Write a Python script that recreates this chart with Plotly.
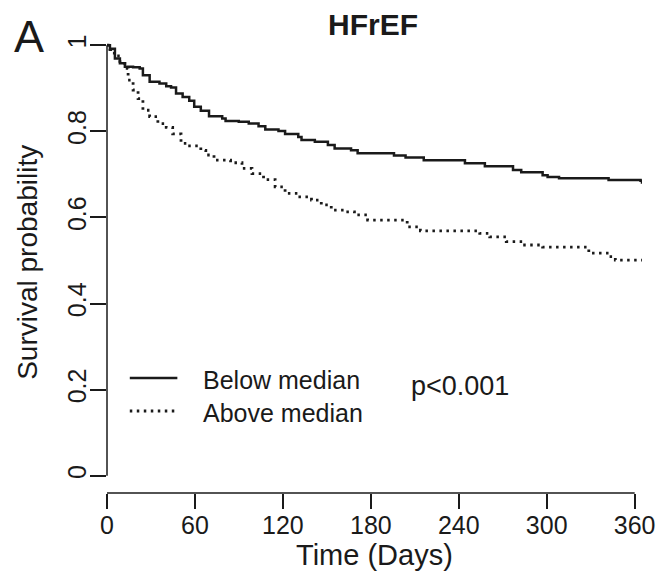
import plotly.graph_objects as go

# Kaplan-Meier step data (days, survival probability)
below_time = [0, 2.0, 5.4, 8.8, 12.2, 17.8, 22.3, 24.5, 29.1, 35.8, 40.4, 43.7, 47.1, 51.6,
              56.1, 59.5, 64.0, 69.6, 78.6, 80.9, 89.9, 96.7, 103.4, 108.0, 117.0, 121.5,
              130.5, 132.7, 141.8, 150.7, 155.3, 166.5, 171.0, 195.8, 203.7, 216.1, 244.2,
              257.8, 277.0, 282.6, 297.2, 300.6, 308.4, 342.2, 364.0, 365.0]
below_surv = [1.0, 0.992, 0.969, 0.958, 0.950, 0.949, 0.946, 0.930, 0.915, 0.911, 0.905, 0.902,
              0.888, 0.880, 0.871, 0.857, 0.848, 0.835, 0.830, 0.824, 0.822, 0.818, 0.812,
              0.804, 0.801, 0.794, 0.787, 0.780, 0.776, 0.768, 0.760, 0.756, 0.749, 0.744,
              0.739, 0.733, 0.726, 0.719, 0.710, 0.705, 0.698, 0.694, 0.691, 0.687, 0.685, 0.678]

above_time = [0, 2.0, 5.0, 8.8, 12.2, 14.4, 17.8, 21.2, 24.5, 29.1, 34.7, 40.4, 44.8, 50.5,
              55.0, 64.0, 67.4, 73.0, 84.3, 92.1, 98.9, 106.8, 114.7, 121.5, 130.5, 139.5,
              146.2, 153.0, 162.0, 168.8, 177.8, 204.8, 213.8, 254.3, 261.1, 272.4, 283.7,
              297.2, 328.7, 342.2, 346.8, 365.0]
above_surv = [1.0, 0.99, 0.975, 0.958, 0.946, 0.919, 0.896, 0.876, 0.849, 0.834, 0.818, 0.809,
              0.794, 0.772, 0.766, 0.756, 0.745, 0.733, 0.727, 0.714, 0.702, 0.688, 0.671,
              0.656, 0.648, 0.640, 0.629, 0.617, 0.613, 0.606, 0.594, 0.578, 0.569, 0.563,
              0.555, 0.544, 0.536, 0.531, 0.517, 0.509, 0.501, 0.501]

x_ticks = [0, 60, 120, 180, 240, 300, 360]
y_ticks = [0, 0.2, 0.4, 0.6, 0.8, 1]
y_ticklabels = ["0", "0.2", "0.4", "0.6", "0.8", "1"]

FONT = "Liberation Sans, Arial, sans-serif"
INK = "#1a1a1a"
DOT = "2.5px,4.5px"

fig = go.Figure()
fig.add_trace(go.Scatter(x=below_time, y=below_surv, mode="lines", line_shape="hv",
                         line=dict(color=INK, width=2.5), name="Below median"))
fig.add_trace(go.Scatter(x=above_time, y=above_surv, mode="lines", line_shape="hv",
                         line=dict(color=INK, width=2.8, dash=DOT), name="Above median"))

fig.update_layout(
    width=659, height=572,
    margin=dict(l=99, r=20, t=20, b=87),
    plot_bgcolor="white", paper_bgcolor="white",
    showlegend=False,
    font=dict(family=FONT, color=INK),
)
fig.update_xaxes(range=[0, 365], tickvals=x_ticks, ticks="outside", ticklen=15, tickwidth=1.5,
                 tickcolor=INK, showline=False, showgrid=False, zeroline=False,
                 ticklabelstandoff=-5,
                 tickfont=dict(size=25, family=FONT, color=INK))
fig.update_yaxes(range=[-0.04, 1.04], tickvals=y_ticks, ticktext=y_ticklabels, ticks="outside",
                 ticklen=16, tickwidth=1.5, tickcolor=INK, showline=False, showgrid=False,
                 zeroline=False, tickangle=-90, ticklabelstandoff=-6,
                 tickfont=dict(size=25, family=FONT, color=INK))

# axis lines spanning first to last tick (R style)
fig.add_shape(type="line", xref="x", yref="paper", x0=0, x1=360, y0=0, y1=0,
              line=dict(color=INK, width=1.5))
fig.add_shape(type="line", xref="paper", yref="y", x0=0, x1=0, y0=0, y1=1,
              line=dict(color=INK, width=1.5))

# legend samples
fig.add_shape(type="line", xref="paper", yref="paper", x0=0.0426, x1=0.1315, y0=0.2472, y1=0.2472,
              line=dict(color=INK, width=2.5))
fig.add_shape(type="line", xref="paper", yref="paper", x0=0.0426, x1=0.1315, y0=0.1763, y1=0.1763,
              line=dict(color=INK, width=2.8, dash=DOT))

ann = [
    dict(text="Below median", x=0.1759, y=0.2429, xanchor="left", yanchor="middle", size=25),
    dict(text="Above median", x=0.1759, y=0.172, xanchor="left", yanchor="middle", size=25),
    dict(text="p<0.001", x=0.5648, y=0.230, xanchor="left", yanchor="middle", size=27),
    dict(text="<b>HFrEF</b>", x=0.498, y=1.008, xanchor="center", yanchor="middle", size=30),
    dict(text="A", x=-0.146, y=0.981, xanchor="center", yanchor="middle", size=45),
    dict(text="Time (Days)", x=0.5, y=-0.1333, xanchor="center", yanchor="middle", size=29),
]
for a in ann:
    fig.add_annotation(text=a["text"], x=a["x"], y=a["y"], xref="paper", yref="paper",
                       xanchor=a["xanchor"], yanchor=a["yanchor"], showarrow=False,
                       font=dict(size=a["size"], family=FONT, color=INK))
fig.add_annotation(text="Survival probability", x=-0.15, y=0.4966, xref="paper", yref="paper",
                   xanchor="center", yanchor="middle", textangle=-90, showarrow=False,
                   font=dict(size=28, family=FONT, color=INK))

fig.write_html("out.html")
